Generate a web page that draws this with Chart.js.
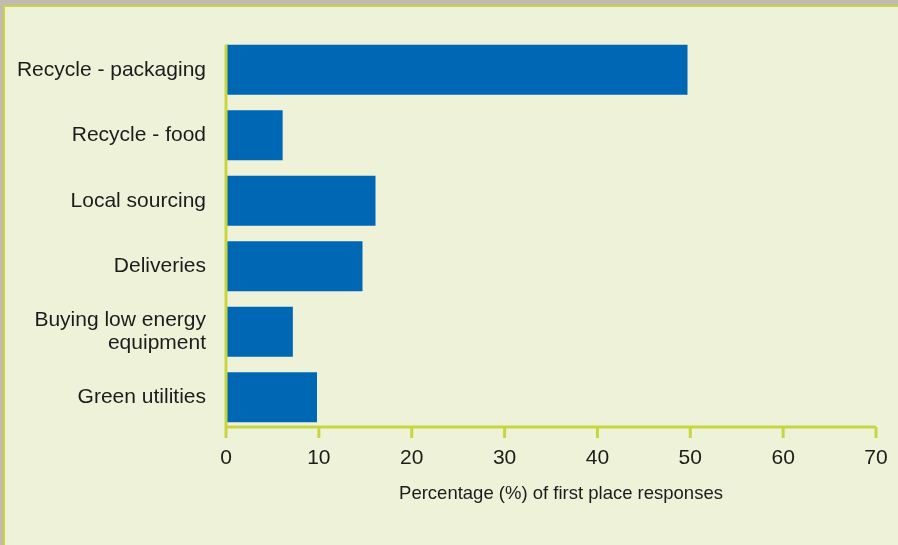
<!DOCTYPE html>
<html>
<head>
<meta charset="utf-8">
<script src="https://cdn.jsdelivr.net/npm/chart.js@4"></script>
<style>
  html, body { margin: 0; padding: 0; }
  body { width: 898px; height: 545px; background: #bfbbb0; position: relative; overflow: hidden; }
  #panel {
    position: absolute; left: 3px; top: 5px; width: 900px; height: 545px;
    background: #eef2d8; border-top: 2px solid #c9d540; border-left: 2px solid #c9d540;
  }
  #wrap { position: absolute; left: 0; top: 0; width: 898px; height: 545px; }
</style>
</head>
<body>
<div id="panel"></div>
<div id="wrap"><canvas id="chart" width="898" height="545"></canvas></div>
<script>
// values
const categories = ["Recycle - packaging", "Recycle - food", "Local sourcing", "Deliveries",
  ["Buying low energy", "equipment"], "Green utilities"];
const firstPlace = [49.7, 6.1, 16.1, 14.7, 7.2, 9.8];
const xTicks = [0, 10, 20, 30, 40, 50, 60, 70];
const xTitle = "Percentage (%) of first place responses";

const AXIS = "#c9d540";
const FONT = "'Liberation Sans', Arial, sans-serif";

// axis lines, tick marks and title drawn from the scales
const axisLines = {
  id: "axisLines",
  afterDatasetsDraw(chart) {
    const { ctx, chartArea, scales } = chart;
    const firstBar = chart.getDatasetMeta(0).data[0];
    const top = firstBar.y - firstBar.height / 2;
    const y0 = chartArea.bottom - 3;
    ctx.save();
    ctx.strokeStyle = AXIS;
    ctx.lineWidth = 3;
    ctx.beginPath();
    ctx.moveTo(chartArea.left, top);
    ctx.lineTo(chartArea.left, y0);
    ctx.lineTo(chartArea.right, y0);
    xTicks.forEach(t => {
      const x = scales.x.getPixelForValue(t);
      ctx.moveTo(x, y0);
      ctx.lineTo(x, y0 + 11);
    });
    ctx.stroke();
    ctx.fillStyle = "#1c1c1c";
    ctx.font = "18.5px " + FONT;
    ctx.textAlign = "center";
    ctx.textBaseline = "middle";
    ctx.fillText(xTitle, (chartArea.left + chartArea.right) / 2 + 10, 494);
    ctx.restore();
  }
};

new Chart(document.getElementById("chart"), {
  type: "bar",
  data: {
    labels: categories,
    datasets: [{
      data: firstPlace,
      backgroundColor: "#0067b4",
      barPercentage: 0.765,
      categoryPercentage: 1
    }]
  },
  options: {
    indexAxis: "y",
    responsive: false,
    animation: false,
    devicePixelRatio: 1,
    layout: { padding: { top: 37, right: 22, left: 0, bottom: 0 } },
    plugins: { legend: { display: false }, tooltip: { enabled: false } },
    scales: {
      x: {
        min: 0, max: 70,
        afterBuildTicks: s => { s.ticks = xTicks.map(v => ({ value: v })); },
        afterFit: s => { s.height = 115; s.paddingLeft = 0; s.paddingRight = 0; },
        grid: { display: false },
        border: { display: false },
        ticks: { color: "#1c1c1c", font: { family: FONT, size: 21 }, padding: 8, maxRotation: 0 }
      },
      y: {
        afterFit: s => { s.width = 226; },
        grid: { display: false, drawTicks: false },
        border: { display: false },
        ticks: { color: "#1c1c1c", font: { family: FONT, size: 21, lineHeight: 1.1 }, padding: 20 }
      }
    }
  },
  plugins: [axisLines]
});
</script>
</body>
</html>
